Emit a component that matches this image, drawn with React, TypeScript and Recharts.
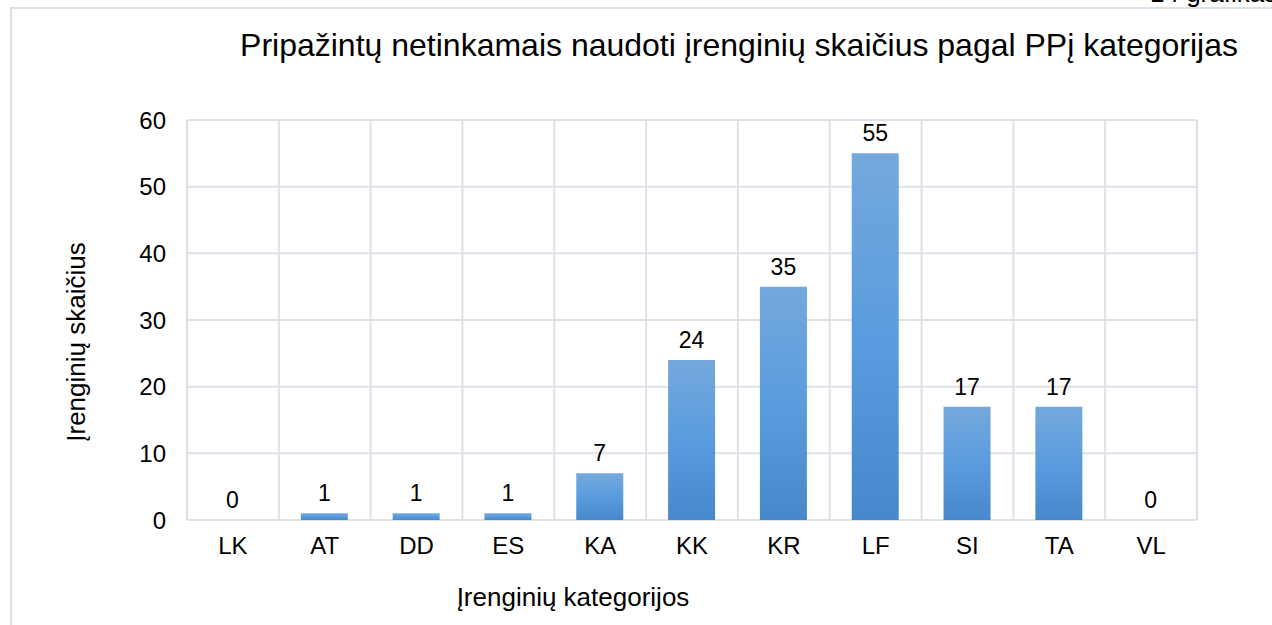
import React from "react";
import { BarChart, Bar, XAxis, YAxis, CartesianGrid, LabelList, Rectangle } from "recharts";

const categories = ["LK", "AT", "DD", "ES", "KA", "KK", "KR", "LF", "SI", "TA", "VL"];
const counts = [0, 1, 1, 1, 7, 24, 35, 55, 17, 17, 0];
const yTicks = [0, 10, 20, 30, 40, 50, 60];

const data = categories.map((name, i) => ({ name, value: counts[i] }));

const FONT = "'Liberation Sans', Arial, sans-serif";
const GRID = "#dde1e8";

// zero bars still need their "0" label, so keep a hairline bar but don't paint it
const BarShape = (props: any) =>
  props.payload && props.payload.value === 0 ? <g /> : <Rectangle {...props} />;

const App = () => {
  // vertical grid lines sit between categories, not on them
  const boundaries = ({ offset }: any) => {
    const step = offset.width / categories.length;
    return categories.map((_, i) => offset.left + i * step).concat(offset.left + offset.width);
  };

  return (
    <div
      style={{
        position: "fixed",
        left: 0,
        top: 0,
        width: 1272,
        height: 625,
        background: "#fff",
        overflow: "hidden",
        fontFamily: FONT,
      }}
    >
      <div
        style={{
          position: "absolute",
          left: 10,
          top: 7,
          right: 0,
          bottom: 0,
          borderTop: `2px solid ${GRID}`,
          borderLeft: `2px solid ${GRID}`,
        }}
      />
      <div style={{ position: "absolute", left: 1150, top: -22, fontSize: 26, whiteSpace: "nowrap" }}>
        14 grafikas
      </div>
      <div
        style={{
          position: "absolute",
          left: 739,
          top: 45,
          transform: "translate(-50%, -50%)",
          fontSize: 32,
          whiteSpace: "nowrap",
        }}
      >
        Pripažintų netinkamais naudoti įrenginių skaičius pagal PPį kategorijas
      </div>
      <div
        style={{
          position: "absolute",
          left: 76,
          top: 342,
          transform: "translate(-50%, -50%) rotate(-90deg)",
          fontSize: 26,
          whiteSpace: "nowrap",
        }}
      >
        Įrenginių skaičius
      </div>
      <div
        style={{
          position: "absolute",
          left: 573,
          top: 597,
          transform: "translate(-50%, -50%)",
          fontSize: 26,
          whiteSpace: "nowrap",
        }}
      >
        Įrenginių kategorijos
      </div>
      <div style={{ position: "absolute", left: 0, top: 0 }}>
        <BarChart
          width={1272}
          height={625}
          data={data}
          margin={{ top: 120, right: 75, bottom: 65, left: 147 }}
        >
          <defs>
            <linearGradient id="barFill" x1="0" y1="0" x2="0" y2="1">
              <stop offset="0%" stopColor="#74a8dc" />
              <stop offset="50%" stopColor="#5a9cde" />
              <stop offset="100%" stopColor="#4788ca" />
            </linearGradient>
          </defs>
          <CartesianGrid
            stroke={GRID}
            strokeWidth={2}
            verticalCoordinatesGenerator={boundaries}
          />
          <XAxis
            dataKey="name"
            height={40}
            axisLine={false}
            tickLine={false}
            tickMargin={11}
            interval={0}
            tick={{ fill: "#000", fontSize: 24, fontFamily: FONT }}
          />
          <YAxis
            width={40}
            domain={[0, 60]}
            ticks={yTicks}
            axisLine={false}
            tickLine={false}
            tickMargin={15}
            tick={{ fill: "#000", fontSize: 24, fontFamily: FONT }}
          />
          <Bar
            dataKey="value"
            fill="url(#barFill)"
            barSize={47}
            minPointSize={0.5}
            shape={BarShape}
            isAnimationActive={false}
          >
            <LabelList
              dataKey="value"
              position="top"
              offset={12}
              fill="#000"
              fontSize={23}
              fontFamily={FONT}
            />
          </Bar>
        </BarChart>
      </div>
    </div>
  );
};

export default App;
